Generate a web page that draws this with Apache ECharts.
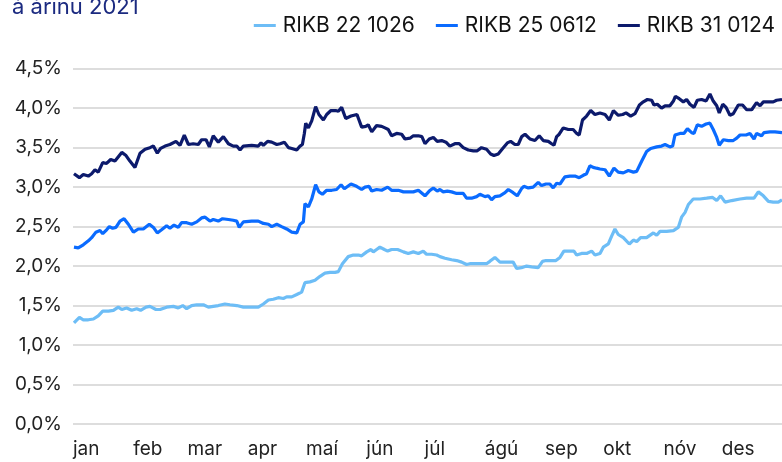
<!DOCTYPE html>
<html>
<head>
<meta charset="utf-8">
<script src="https://cdn.jsdelivr.net/npm/echarts@6/dist/echarts.min.js"></script>
<style>
  html, body { margin: 0; padding: 0; background: #fff; }
  #chart { width: 782px; height: 462px; }
</style>
</head>
<body>
<div id="chart"></div>
<script>
  // mánaðarheiti og upphafsdagur hvers mánaðar (dagur ársins)
  var months = ['jan', 'feb', 'mar', 'apr', 'maí', 'jún', 'júl', 'ágú', 'sep', 'okt', 'nóv', 'des'];
  var monthStarts = [0, 31, 59, 90, 120, 151, 181, 212, 243, 273, 304, 334];

  // [dagur ársins, ávöxtunarkrafa %]
  var rikb22 = [
    [0.5, 1.28], [3.3, 1.35], [5.3, 1.32], [7.9, 1.32], [10.5, 1.33], [13.0, 1.37], [15.3, 1.43],
    [18.2, 1.43], [20.8, 1.44], [23.3, 1.48], [25.1, 1.45], [27.6, 1.47], [30.2, 1.44], [32.8, 1.46],
    [34.8, 1.44], [37.6, 1.48], [39.6, 1.49], [42.7, 1.45], [44.8, 1.45], [48.2, 1.48], [51.7, 1.49],
    [54.2, 1.47], [56.5, 1.50], [58.5, 1.46], [61.1, 1.50], [63.7, 1.51], [67.1, 1.51], [69.7, 1.48],
    [72.2, 1.49], [74.8, 1.50], [78.2, 1.52], [80.8, 1.51], [84.3, 1.50], [87.7, 1.48], [92.0, 1.48],
    [95.4, 1.48], [98.0, 1.52], [100.6, 1.57], [103.1, 1.58], [105.7, 1.60], [108.3, 1.59], [110.0, 1.61],
    [112.6, 1.61], [115.2, 1.64], [117.7, 1.67], [118.6, 1.69], [119.4, 1.79], [122.0, 1.80], [124.6, 1.82],
    [127.2, 1.87], [129.7, 1.91], [132.3, 1.92], [134.9, 1.92], [136.6, 1.93], [138.7, 2.03], [141.7, 2.12],
    [144.3, 2.14], [146.9, 2.14], [148.6, 2.13], [151.2, 2.18], [153.4, 2.21], [154.6, 2.18], [156.3, 2.21],
    [158.0, 2.24], [160.3, 2.21], [162.0, 2.19], [164.0, 2.21], [167.1, 2.21], [170.1, 2.18], [172.6, 2.16],
    [175.2, 2.18], [177.8, 2.16], [180.3, 2.19], [182.0, 2.15], [184.6, 2.15], [187.2, 2.14], [188.9, 2.12],
    [191.5, 2.10], [194.9, 2.08], [197.5, 2.07], [200.1, 2.05], [202.6, 2.02], [204.3, 2.03], [206.9, 2.03],
    [209.5, 2.03], [212.9, 2.03], [214.6, 2.06], [217.2, 2.11], [219.8, 2.05], [223.2, 2.05], [226.6, 2.05],
    [228.4, 1.97], [230.9, 1.98], [233.5, 2.00], [236.1, 1.99], [239.5, 1.98], [241.7, 2.06], [243.5, 2.07],
    [246.4, 2.07], [248.6, 2.07], [250.7, 2.11], [252.7, 2.19], [255.5, 2.19], [257.9, 2.19], [259.3, 2.14],
    [261.8, 2.16], [264.4, 2.16], [267.0, 2.19], [268.7, 2.14], [271.3, 2.16], [273.0, 2.24], [275.6, 2.28],
    [277.3, 2.38], [279.0, 2.47], [280.7, 2.40], [283.3, 2.36], [286.4, 2.28], [288.5, 2.33], [290.2, 2.31],
    [292.2, 2.36], [295.3, 2.36], [298.8, 2.42], [300.5, 2.39], [302.2, 2.44], [305.6, 2.44], [309.1, 2.45],
    [311.6, 2.49], [313.3, 2.62], [315.1, 2.68], [316.8, 2.78], [319.3, 2.85], [322.8, 2.85], [326.2, 2.86],
    [329.3, 2.87], [331.4, 2.83], [333.4, 2.89], [335.7, 2.81], [339.1, 2.83], [343.4, 2.85], [346.8, 2.86],
    [350.6, 2.86], [352.8, 2.94], [355.4, 2.89], [358.0, 2.82], [360.5, 2.81], [363.1, 2.81], [365.0, 2.84]
  ];

  var rikb25 = [
    [0.5, 2.24], [2.7, 2.23], [5.3, 2.27], [7.9, 2.32], [9.6, 2.36], [11.8, 2.43], [13.9, 2.45], [15.3, 2.41],
    [17.3, 2.46], [18.7, 2.50], [20.4, 2.48], [22.1, 2.49], [24.2, 2.57], [26.3, 2.60], [28.5, 2.53],
    [31.1, 2.43], [33.6, 2.47], [36.2, 2.47], [39.3, 2.53], [41.4, 2.49], [43.4, 2.42], [45.6, 2.46],
    [48.2, 2.51], [49.9, 2.48], [52.0, 2.52], [54.2, 2.49], [55.9, 2.55], [58.5, 2.55], [61.1, 2.53],
    [63.7, 2.56], [66.2, 2.61], [68.0, 2.62], [70.5, 2.57], [72.2, 2.59], [74.8, 2.57], [77.0, 2.60],
    [80.0, 2.59], [82.5, 2.58], [84.3, 2.57], [85.6, 2.49], [87.7, 2.56], [92.0, 2.57], [95.4, 2.57],
    [98.0, 2.54], [100.6, 2.53], [102.3, 2.50], [104.9, 2.53], [107.4, 2.50], [110.0, 2.47], [112.6, 2.43],
    [115.2, 2.42], [116.9, 2.53], [118.6, 2.56], [119.4, 2.79], [121.2, 2.75], [122.9, 2.85], [124.9, 3.03],
    [126.6, 2.94], [128.4, 2.91], [130.6, 2.96], [133.2, 2.96], [135.7, 2.97], [138.0, 3.03], [139.7, 2.98],
    [143.1, 3.04], [146.0, 3.01], [148.6, 2.97], [150.3, 3.00], [152.4, 3.01], [153.8, 2.95], [156.3, 2.97],
    [158.9, 2.96], [162.0, 3.00], [164.0, 2.96], [167.5, 2.96], [170.1, 2.94], [172.6, 2.94], [175.2, 2.94],
    [177.8, 2.96], [181.2, 2.89], [183.4, 2.95], [185.5, 2.99], [187.5, 2.95], [188.9, 2.97], [190.6, 2.94],
    [192.7, 2.95], [194.9, 2.94], [197.5, 2.92], [200.9, 2.92], [202.6, 2.86], [205.2, 2.86], [207.8, 2.88],
    [209.5, 2.91], [212.1, 2.88], [213.8, 2.89], [215.5, 2.84], [217.2, 2.88], [219.8, 2.89], [222.4, 2.93],
    [224.1, 2.97], [226.6, 2.93], [228.7, 2.89], [230.9, 2.98], [232.1, 3.01], [234.4, 2.99], [236.9, 3.00],
    [239.5, 3.06], [241.2, 3.02], [243.5, 3.04], [245.5, 3.04], [247.2, 2.99], [249.0, 3.05], [250.7, 3.04],
    [253.2, 3.13], [255.8, 3.14], [258.4, 3.14], [260.6, 3.12], [262.7, 3.15], [264.4, 3.17], [266.1, 3.27],
    [267.8, 3.25], [269.5, 3.24], [271.3, 3.23], [273.9, 3.22], [276.1, 3.14], [278.5, 3.24], [280.7, 3.19],
    [283.3, 3.18], [285.9, 3.21], [288.5, 3.19], [290.2, 3.20], [292.8, 3.33], [295.3, 3.45], [297.4, 3.49],
    [300.5, 3.51], [303.0, 3.52], [304.8, 3.54], [307.3, 3.51], [308.7, 3.52], [309.9, 3.66], [312.5, 3.68],
    [314.5, 3.68], [316.3, 3.74], [318.5, 3.69], [319.7, 3.68], [321.4, 3.79], [323.6, 3.77], [325.9, 3.80],
    [327.9, 3.81], [329.6, 3.73], [331.4, 3.63], [332.7, 3.53], [334.8, 3.60], [337.4, 3.59], [339.9, 3.59],
    [341.7, 3.62], [343.4, 3.66], [346.5, 3.66], [348.5, 3.68], [350.6, 3.61], [351.9, 3.68], [354.5, 3.65],
    [355.7, 3.69], [358.8, 3.70], [361.4, 3.70], [365.0, 3.69]
  ];

  var rikb31 = [
    [0.5, 3.17], [3.3, 3.12], [5.3, 3.16], [7.9, 3.14], [9.6, 3.17], [11.3, 3.22], [13.0, 3.19], [15.3, 3.31],
    [17.3, 3.30], [19.4, 3.35], [21.6, 3.33], [25.1, 3.44], [27.3, 3.40], [29.3, 3.33], [31.9, 3.25],
    [34.5, 3.43], [37.1, 3.48], [39.6, 3.50], [41.4, 3.52], [43.4, 3.43], [45.1, 3.49], [47.4, 3.52],
    [49.9, 3.54], [53.0, 3.58], [55.1, 3.53], [57.3, 3.66], [59.4, 3.54], [61.9, 3.55], [64.5, 3.54],
    [66.2, 3.60], [68.5, 3.60], [70.2, 3.51], [72.2, 3.65], [74.8, 3.57], [77.4, 3.64], [80.0, 3.55],
    [82.5, 3.52], [84.3, 3.52], [86.0, 3.47], [87.7, 3.52], [92.0, 3.53], [95.4, 3.52], [96.8, 3.56],
    [98.0, 3.53], [100.2, 3.58], [102.3, 3.57], [104.9, 3.54], [106.6, 3.55], [108.8, 3.57], [110.9, 3.50],
    [112.6, 3.49], [115.2, 3.47], [116.9, 3.52], [118.1, 3.54], [119.1, 3.68], [119.8, 3.81], [121.2, 3.75],
    [122.9, 3.84], [124.9, 4.02], [126.6, 3.92], [128.9, 3.85], [130.6, 3.92], [132.8, 3.97], [135.2, 3.97],
    [136.6, 3.96], [138.3, 4.01], [140.4, 3.87], [143.1, 3.90], [146.2, 3.92], [148.6, 3.76], [150.7, 3.77],
    [152.0, 3.79], [153.8, 3.70], [156.3, 3.78], [158.9, 3.77], [160.6, 3.75], [162.3, 3.73], [164.0, 3.65],
    [166.6, 3.68], [169.2, 3.67], [170.9, 3.61], [173.5, 3.62], [175.2, 3.65], [177.8, 3.65], [179.6, 3.64],
    [181.2, 3.55], [183.4, 3.61], [185.5, 3.63], [187.5, 3.58], [189.8, 3.59], [192.0, 3.57], [194.0, 3.52],
    [196.6, 3.55], [198.8, 3.55], [200.9, 3.50], [203.5, 3.47], [206.1, 3.46], [208.1, 3.46], [210.3, 3.50],
    [212.9, 3.48], [215.0, 3.42], [216.7, 3.40], [218.9, 3.42], [221.2, 3.49], [223.6, 3.56], [225.3, 3.58],
    [227.5, 3.54], [229.2, 3.54], [231.0, 3.64], [232.7, 3.67], [235.2, 3.61], [237.8, 3.59], [240.0, 3.65],
    [242.1, 3.59], [244.7, 3.58], [246.4, 3.55], [247.6, 3.53], [249.0, 3.64], [250.3, 3.67], [252.4, 3.75],
    [255.0, 3.73], [257.5, 3.73], [259.3, 3.68], [260.6, 3.66], [262.3, 3.85], [264.4, 3.90], [266.5, 3.97],
    [268.7, 3.92], [271.3, 3.94], [273.9, 3.92], [276.1, 3.85], [278.2, 3.97], [280.7, 3.91], [283.0, 3.92],
    [284.7, 3.94], [287.1, 3.90], [289.3, 3.93], [291.6, 4.04], [293.6, 4.08], [295.7, 4.11], [297.9, 4.10],
    [299.1, 4.04], [300.8, 4.05], [303.0, 4.00], [304.8, 4.03], [307.3, 4.03], [309.1, 4.09], [310.1, 4.15],
    [312.1, 4.12], [314.2, 4.08], [315.9, 4.11], [317.6, 4.05], [319.7, 4.01], [321.4, 4.10], [323.6, 4.11],
    [325.9, 4.09], [327.9, 4.18], [329.6, 4.09], [331.4, 4.03], [332.7, 3.94], [334.5, 4.05], [336.2, 4.01],
    [338.2, 3.91], [339.9, 3.93], [342.5, 4.04], [344.7, 4.04], [346.8, 3.98], [349.4, 3.98], [351.9, 4.07],
    [353.7, 4.03], [355.4, 4.08], [358.0, 4.08], [360.5, 4.08], [362.2, 4.10], [365.0, 4.11]
  ];

  var yTicks = { min: 0, max: 4.5, step: 0.5 };

  var chart = echarts.init(document.getElementById('chart'), null, { renderer: 'canvas' });

  var font = 'Inter, "Liberation Sans", sans-serif';

  var option = {
    animation: false,
    backgroundColor: '#fff',
    graphic: [{
      type: 'text',
      left: 12,
      top: -4,
      style: { text: 'á árinu 2021', fill: '#1b2a80', font: '22px ' + font }
    }],
    legend: {
      right: 2,
      top: 10,
      icon: 'rect',
      itemWidth: 22,
      itemHeight: 3,
      itemGap: 21,
      textStyle: { color: '#111', fontSize: 21, fontFamily: font, padding: [0, 0, 0, 2] },
      data: ['RIKB 22 1026', 'RIKB 25 0612', 'RIKB 31 0124']
    },
    grid: { left: 73, right: 0, top: 68.7, bottom: 38 },
    xAxis: {
      type: 'value',
      min: 0,
      max: 365,
      axisLine: { show: false },
      axisTick: { show: false },
      splitLine: { show: false },
      axisLabel: {
        customValues: monthStarts,
        formatter: function (v) { return months[monthStarts.indexOf(v)]; },
        align: 'left',
        margin: 16,
        color: '#222',
        fontSize: 19,
        fontFamily: font
      }
    },
    yAxis: {
      type: 'value',
      min: yTicks.min,
      max: yTicks.max,
      interval: yTicks.step,
      axisLine: { show: false },
      axisTick: { show: false },
      splitLine: { lineStyle: { color: '#d2d2d2', width: 1.5 } },
      axisLabel: {
        margin: 11,
        color: '#222',
        fontSize: 19,
        fontFamily: font,
        formatter: function (v) { return v.toFixed(1).replace('.', ',') + '%'; }
      }
    },
    series: [{
      name: 'RIKB 22 1026',
      type: 'line',
      showSymbol: false,
      symbol: 'none',
      data: rikb22,
      itemStyle: { color: '#6dbdf6' },
      lineStyle: { color: '#6dbdf6', width: 3.2 }
    }, {
      name: 'RIKB 25 0612',
      type: 'line',
      showSymbol: false,
      symbol: 'none',
      data: rikb25,
      itemStyle: { color: '#0a6bff' },
      lineStyle: { color: '#0a6bff', width: 3.2 }
    }, {
      name: 'RIKB 31 0124',
      type: 'line',
      showSymbol: false,
      symbol: 'none',
      data: rikb31,
      itemStyle: { color: '#0c1a6c' },
      lineStyle: { color: '#0c1a6c', width: 3.2 }
    }]
  };

  chart.setOption(option);
</script>
</body>
</html>
